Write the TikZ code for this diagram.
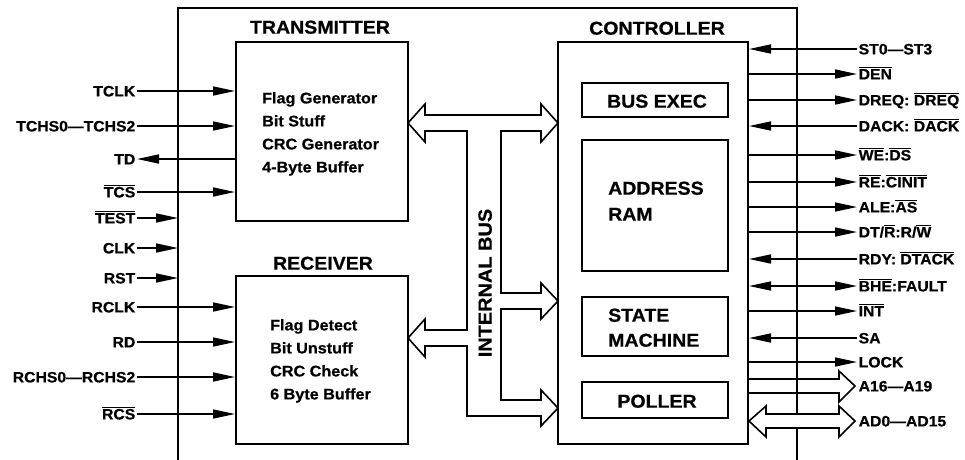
\documentclass[tikz,border=0pt]{standalone}
\usepackage{fontspec}
\setmainfont{Liberation Sans}[FakeStretch=1.05, BoldFeatures={FakeBold=0.6}]
\usetikzlibrary{arrows.meta}
\newcommand\ovl[1]{\leavevmode\vbox{\hrule height 0.9pt\kern1.4pt\hbox{#1}}}
\tikzset{
  boxline/.style={draw, line width=2pt, rectangle, inner sep=0pt},
  sig/.style={line width=1.6pt},
  tipA/.style={-{Triangle[length=22pt,width=9pt]}},
  tipB/.style={{Triangle[length=22pt,width=9pt]}-{Triangle[length=22pt,width=9pt]}},
  lab/.style={font=\fontsize{15}{18}\selectfont\bfseries, text height=10.8pt, text depth=0pt, inner sep=1.5pt},
  body/.style={font=\fontsize{15.4}{18}\selectfont\bfseries, text height=10.8pt, text depth=0pt, inner sep=0pt, anchor=west},
  title/.style={font=\fontsize{18.6}{22}\selectfont\bfseries, text height=13.3pt, text depth=0pt, inner sep=0pt},
  bus/.style={line width=1.6pt, line join=miter},
}
\begin{document}
\begin{tikzpicture}[x=1pt,y=-1pt]
\useasboundingbox (0,0) rectangle (965,459);
\fill[white] (0,0) rectangle (965,459);

% outer chip boundary
\coordinate (obl) at (178,8);
\coordinate (obr) at (797,8);
\draw[line width=2pt] (178,470) -- (obl) -- (obr) -- (797,470);

% main blocks
\node[boxline, minimum width=172pt, minimum height=179pt] (tx) at (322,131.5) {};
\node[boxline, minimum width=172pt, minimum height=168pt] (rx) at (322,360) {};
\node[boxline, minimum width=190pt, minimum height=402pt] (ctrl) at (653,243) {};
\node[boxline, minimum width=146pt, minimum height=34pt] (busexec) at (655,100) {};
\node[boxline, minimum width=146pt, minimum height=131pt] (addr) at (655,205.5) {};
\node[boxline, minimum width=146pt, minimum height=59pt] (sm) at (655,326.5) {};
\node[boxline, minimum width=146pt, minimum height=36pt] (poll) at (655,400) {};

% titles
\node[title] (txt) at (320,27) {TRANSMITTER};
\node[title] (rxt) at (323,263) {RECEIVER};
\node[title] (ctt) at (657,28) {CONTROLLER};

% block contents
\node[body] (tx1) at (262,98) {Flag Generator};
\node[body] (tx2) at (262,121) {Bit Stuff};
\node[body] (tx3) at (262,144) {CRC Generator};
\node[body] (tx4) at (262,167) {4-Byte Buffer};
\node[body] (rx1) at (270,325) {Flag Detect};
\node[body] (rx2) at (270,348) {Bit Unstuff};
\node[body] (rx3) at (270,371) {CRC Check};
\node[body] (rx4) at (270,394) {6 Byte Buffer};
\node[title] (be) at (657,101) {BUS EXEC};
\node[title, anchor=west] (ad1) at (608,188) {ADDRESS};
\node[title, anchor=west] (ad2) at (608,214) {RAM};
\node[title, anchor=west] (sm1) at (608,315) {STATE};
\node[title, anchor=west] (sm2) at (608,340) {MACHINE};
\node[title] (pl) at (657,401) {POLLER};

% internal bus
\draw[bus] (408,123) -- (425,104) -- (425,115) -- (541,115) -- (541,104) -- (558,123)
  -- (541,142) -- (541,131) -- (501,131) -- (501,293) -- (541,293) -- (541,283) -- (558,301)
  -- (541,319) -- (541,309) -- (501,309) -- (501,400) -- (541,400) -- (541,390) -- (558,408)
  -- (541,426) -- (541,416) -- (467,416) -- (467,346) -- (425,346) -- (425,357) -- (408,338)
  -- (425,319) -- (425,330) -- (467,330) -- (467,131) -- (425,131) -- (425,142) -- cycle;
\node[title, rotate=90, font=\fontsize{19}{22}\selectfont\bfseries] (ib) at (485,283) {INTERNAL BUS};

% left signals
\node[lab, anchor=east] (tclk) at (137,91) {TCLK};
\node[lab, anchor=east] (tchs) at (137,126) {TCHS0—TCHS2};
\node[lab, anchor=east] (td) at (137,159) {TD};
\node[lab, anchor=east] (tcs) at (137,192) {\ovl{TCS}};
\node[lab, anchor=east] (test) at (137,218) {\ovl{TEST}};
\node[lab, anchor=east] (clk) at (137,248) {CLK};
\node[lab, anchor=east] (rst) at (137,278) {RST};
\node[lab, anchor=east] (rclk) at (137,307) {RCLK};
\node[lab, anchor=east] (rd) at (137,342) {RD};
\node[lab, anchor=east] (rchs) at (137,377) {RCHS0—RCHS2};
\node[lab, anchor=east] (rcs) at (137,414) {\ovl{RCS}};

\draw[sig, tipA] (tclk.east) -- (tclk.east -| tx.west);
\draw[sig, tipA] (tchs.east) -- (tchs.east -| tx.west);
\draw[sig, tipA] (td.east -| tx.west) -- (td.east);
\draw[sig, tipA] (tcs.east) -- (tcs.east -| tx.west);
\draw[sig, tipA] (test.east) -- (test.east -| obl);
\draw[sig, tipA] (clk.east) -- (clk.east -| obl);
\draw[sig, tipA] (rst.east) -- (rst.east -| obl);
\draw[sig, tipA] (rclk.east) -- (rclk.east -| rx.west);
\draw[sig, tipA] (rd.east) -- (rd.east -| rx.west);
\draw[sig, tipA] (rchs.east) -- (rchs.east -| rx.west);
\draw[sig, tipA] (rcs.east) -- (rcs.east -| rx.west);

% right signals
\node[lab, anchor=west] (st) at (857,49) {ST0—ST3};
\node[lab, anchor=west] (den) at (857,74) {\ovl{DEN}};
\node[lab, anchor=west] (dreq) at (857,100) {DREQ: \ovl{DREQ}};
\node[lab, anchor=west] (dack) at (857,126) {DACK: \ovl{DACK}};
\node[lab, anchor=west] (we) at (857,155) {\ovl{WE}:\ovl{DS}};
\node[lab, anchor=west] (re) at (857,182) {\ovl{RE}:\ovl{CINIT}};
\node[lab, anchor=west] (ale) at (857,207) {ALE:\ovl{AS}};
\node[lab, anchor=west] (dt) at (857,232) {DT/\ovl{R}:R/\ovl{W}};
\node[lab, anchor=west] (rdy) at (857,259) {RDY: \ovl{DTACK}};
\node[lab, anchor=west] (bhe) at (857,286) {\ovl{BHE}:FAULT};
\node[lab, anchor=west] (int) at (857,311) {\ovl{INT}};
\node[lab, anchor=west] (sa) at (857,338) {SA};
\node[lab, anchor=west] (lock) at (857,362) {LOCK};
\node[lab, anchor=west] (a16) at (857,386) {A16—A19};
\node[lab, anchor=west] (ad0) at (857,421) {AD0—AD15};

\draw[sig, tipA] (st.west) -- (st.west -| ctrl.east);
\draw[sig, tipA] (den.west -| ctrl.east) -- (den.west);
\draw[sig, tipA] (dreq.west -| ctrl.east) -- (dreq.west);
\draw[sig, tipA] (dack.west) -- (dack.west -| ctrl.east);
\draw[sig, tipA] (we.west -| ctrl.east) -- (we.west);
\draw[sig, tipA] (re.west -| ctrl.east) -- (re.west);
\draw[sig, tipA] (ale.west -| ctrl.east) -- (ale.west);
\draw[sig, tipA] (dt.west -| ctrl.east) -- (dt.west);
\draw[sig, tipA] (rdy.west) -- (rdy.west -| ctrl.east);
\draw[sig, tipB] (bhe.west -| ctrl.east) -- (bhe.west);
\draw[sig, tipA] (int.west -| ctrl.east) -- (int.west);
\draw[sig, tipA] (sa.west) -- (sa.west -| ctrl.east);
\draw[sig, tipA] (lock.west -| ctrl.east) -- (lock.west);

% external buses
\draw[bus] (748,379) -- (839,379) -- (839,371) -- (855,386) -- (839,402) -- (839,393) -- (748,393);
\draw[bus, fill=white] (749,421) -- (766,406) -- (766,414) -- (839,414) -- (839,406) -- (855,421)
  -- (839,437) -- (839,428) -- (766,428) -- (766,437) -- cycle;
\end{tikzpicture}
\end{document}
